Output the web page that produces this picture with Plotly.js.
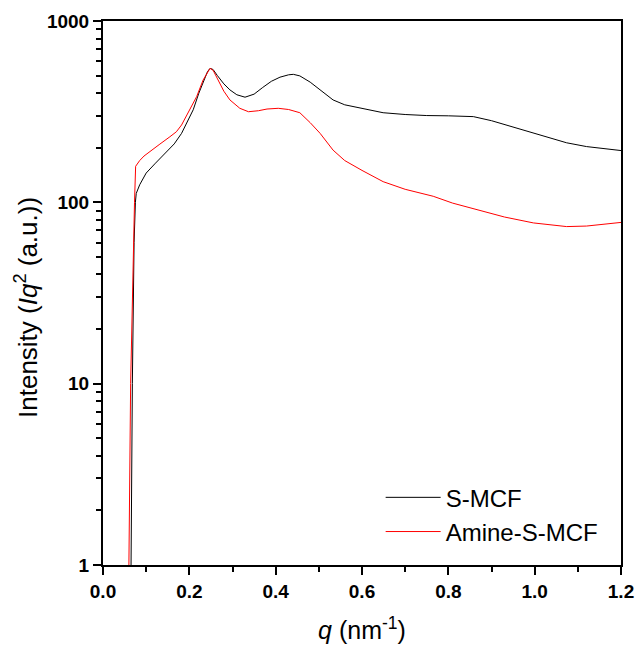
<!DOCTYPE html>
<html>
<head>
<meta charset="utf-8">
<script src="https://cdn.plot.ly/plotly-3.0.1.min.js"></script>
<style>html,body{margin:0;padding:0;background:#fff;}#chart{width:638px;height:653px;}</style>
</head>
<body>
<div id="chart"></div>
<script>
// S-MCF (black)
var qS = [0.063,0.065,0.068,0.072,0.075,0.077,0.085,0.10,0.12,0.147,0.165,0.182,0.195,0.209,0.222,0.232,0.242,0.248,0.255,0.265,0.28,0.294,0.31,0.329,0.35,0.37,0.39,0.41,0.43,0.441,0.456,0.48,0.503,0.533,0.56,0.60,0.649,0.70,0.75,0.80,0.858,0.90,0.958,1.0,1.074,1.12,1.16,1.2];
var iS = [0.5,1,10,60,100,112,125,145,163,190,210,240,280,324,400,454,525,548,540,500,450,417,392,380,395,430,465,490,505,508,498,460,417,367,345,330,312,305,301,300,297,282,256,240,213,203,198,193];
// Amine-S-MCF (red)
var qA = [0.058,0.060,0.064,0.070,0.073,0.0756,0.085,0.095,0.109,0.13,0.155,0.17,0.182,0.20,0.217,0.232,0.242,0.248,0.255,0.265,0.28,0.294,0.317,0.337,0.36,0.38,0.406,0.43,0.456,0.48,0.503,0.533,0.56,0.60,0.649,0.70,0.765,0.81,0.865,0.93,0.997,1.04,1.074,1.12,1.16,1.2];
var iA = [0.5,1,10,60,100,158,170,180,190,208,230,245,267,320,383,473,525,548,535,480,410,367,330,316,320,327,330,325,312,275,240,194,170,150,130,118,108,99,91,83,77,75,73.5,74,75.5,77.5];
var names = ["S-MCF","Amine-S-MCF"];
var xMinorVals = [0.1,0.3,0.5,0.7,0.9,1.1];
var yMinorVals = [2,3,4,5,6,7,8,9,20,30,40,50,60,70,80,90,200,300,400,500,600,700,800,900];

var FONT = "Arial, 'Liberation Sans', sans-serif";
var traces = [
  {x:qS, y:iS, name:names[0], mode:"lines", line:{color:"#000000", width:1}},
  {x:qA, y:iA, name:names[1], mode:"lines", line:{color:"#ff0000", width:1}}
];
var layout = {
  width:638, height:653,
  margin:{l:103, r:17, t:21, b:88},
  paper_bgcolor:"#fff", plot_bgcolor:"#fff",
  font:{family:FONT, color:"#000"},
  showlegend:true,
  legend:{x:0.536, y:0.165, xanchor:"left", yanchor:"top", bgcolor:"rgba(0,0,0,0)", font:{size:24, family:FONT}, itemwidth:55, traceorder:"normal"},
  xaxis:{
    range:[0,1.2], showgrid:false, zeroline:false,
    showline:true, linecolor:"#000", linewidth:2, mirror:true,
    ticks:"outside", ticklen:8, tickwidth:2, tickcolor:"#000",
    tickmode:"linear", tick0:0, dtick:0.2, tickformat:".1f",
    tickfont:{size:19, family:FONT, weight:"bold"},
    minor:{tickmode:"array", tickvals:xMinorVals, ticks:"outside", ticklen:5, tickwidth:2, tickcolor:"#000", showgrid:false},
    title:{text:"<i>q</i> (nm<sup>-1</sup>)", font:{size:25, family:FONT}, standoff:21}
  },
  yaxis:{
    type:"log", range:[0,3], showgrid:false, zeroline:false,
    showline:true, linecolor:"#000", linewidth:2, mirror:true,
    ticks:"outside", ticklen:8, tickwidth:2, tickcolor:"#000",
    tickmode:"linear", tick0:0, dtick:1, tickformat:"d",
    tickfont:{size:19, family:FONT, weight:"bold"},
    minor:{tickmode:"array", tickvals:yMinorVals, ticks:"outside", ticklen:5, tickwidth:2, tickcolor:"#000", showgrid:false},
    title:{text:"Intensity (<i>Iq</i><sup>2</sup> (a.u.))&nbsp;&nbsp;&nbsp;&nbsp;", font:{size:26, family:FONT}, standoff:2}
  }
};
Plotly.newPlot("chart", traces, layout, {displayModeBar:false});
</script>
</body>
</html>
